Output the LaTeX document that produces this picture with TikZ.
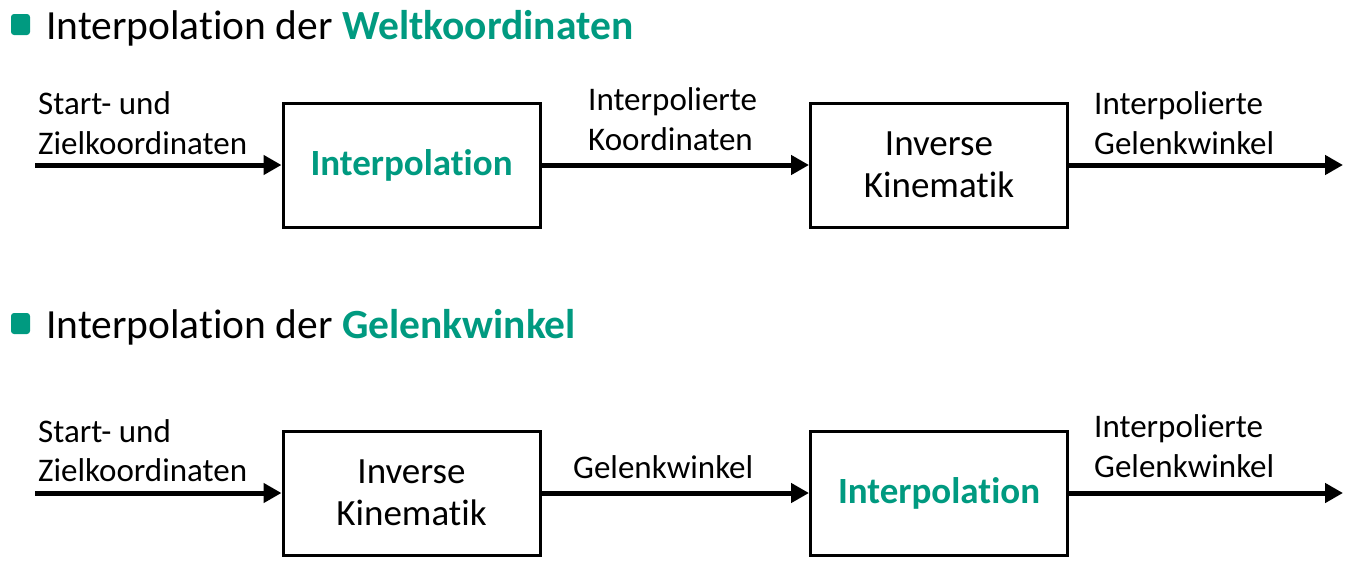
\documentclass[tikz,border=0pt]{standalone}
\usepackage{fontspec}
\setmainfont[Ligatures=NoCommon]{Carlito}
\usetikzlibrary{arrows.meta}
\definecolor{teal1}{HTML}{009A80}
\tikzset{
  box/.style={draw=black, line width=3pt, minimum width=257pt, minimum height=124pt, inner sep=0pt, align=center, font=\fontsize{37}{42}\selectfont},
  lbl/.style={anchor=base west, inner sep=0pt, font=\fontsize{33}{35}\selectfont},
  head/.style={anchor=base west, inner sep=0pt, font=\fontsize{41.5}{44}\selectfont},
  conn/.style={line width=5pt, -{Triangle[length=18pt,width=19pt]}}
}
\begin{document}
\begin{tikzpicture}[x=1pt,y=-1pt]
\useasboundingbox (0,0) rectangle (1348,560);
% headings
\fill[teal1, rounded corners=3pt] (11,14) rectangle (30,35);
\node[head] (h1) at (46,39) {Interpolation der \textcolor{teal1}{\bfseries Weltkoordinaten}};
\fill[teal1, rounded corners=3pt] (11,313) rectangle (30,334);
\node[head] (h2) at (46,338) {Interpolation der \textcolor{teal1}{\bfseries Gelenkwinkel}};
% top row
\node[box] (b1) at (411.5,165) {\raisebox{-3pt}{\textcolor{teal1}{\bfseries Interpolation}}};
\node[box] (b2) at (939,165) {Inverse\\Kinematik};
\coordinate (s1) at (35,165);
\coordinate (e1) at (1343,165);
\draw[conn] (s1) -- (b1.west);
\draw[conn] (b1.east) -- (b2.west);
\draw[conn] (b2.east) -- (e1);
\node[lbl] (l1a) at (38,114) {Start- und};
\node[lbl] (l1b) at (38,154) {Zielkoordinaten};
\node[lbl] (l2a) at (588,110) {Interpolierte};
\node[lbl] (l2b) at (588,150) {Koordinaten};
\node[lbl] (l3a) at (1094,114) {Interpolierte};
\node[lbl] (l3b) at (1094,154) {Gelenkwinkel};
% bottom row
\node[box] (b3) at (411.5,493) {Inverse\\Kinematik};
\node[box] (b4) at (939,493) {\raisebox{-3pt}{\textcolor{teal1}{\bfseries Interpolation}}};
\coordinate (s2) at (35,493);
\coordinate (e2) at (1343,493);
\draw[conn] (s2) -- (b3.west);
\draw[conn] (b3.east) -- (b4.west);
\draw[conn] (b4.east) -- (e2);
\node[lbl] (l4a) at (38,442) {Start- und};
\node[lbl] (l4b) at (38,481) {Zielkoordinaten};
\node[lbl] (l5) at (573,478) {Gelenkwinkel};
\node[lbl] (l6a) at (1094,437) {Interpolierte};
\node[lbl] (l6b) at (1094,477) {Gelenkwinkel};
\end{tikzpicture}
\end{document}
